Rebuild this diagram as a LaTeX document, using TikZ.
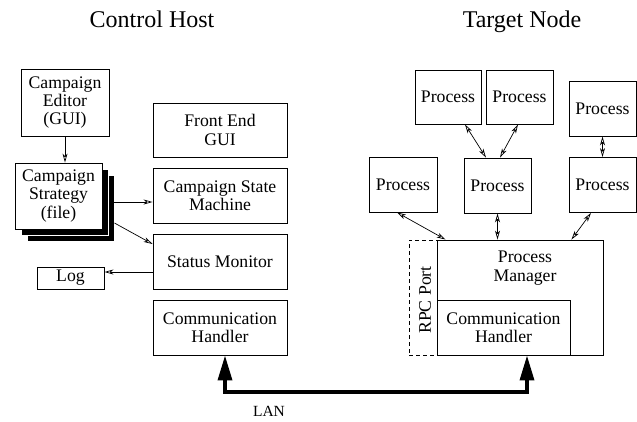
\documentclass[tikz,border=0pt]{standalone}
\usepackage{fontspec}
\setmainfont{Liberation Serif}
\usetikzlibrary{arrows.meta,calc}
\begin{document}
\begin{tikzpicture}[x=1pt,y=-1pt,
  box/.style={draw,line width=0.9pt,inner sep=0pt,align=center,
    font=\fontsize{17.7}{18.3}\selectfont},
  lbl/.style={inner sep=0pt,align=center,font=\fontsize{17.7}{18.3}\selectfont},
  title/.style={inner sep=0pt,anchor=base,font=\fontsize{24}{28}\selectfont},
  link/.style={line width=0.7pt,-{Stealth[length=9pt,width=5pt,inset=2.5pt,open]}},
  dlink/.style={line width=0.7pt,{Stealth[length=9pt,width=5pt,inset=2.5pt,open]}-{Stealth[length=9pt,width=5pt,inset=2.5pt,open]}},
  lan/.style={line width=3.5pt,{Triangle[length=25pt,width=14pt]}-{Triangle[length=25pt,width=14pt]}}]
\useasboundingbox (0,0) rectangle (637,421);

% column titles
\node[title] (ch) at (152,27) {Control Host};
\node[title] (tn) at (522,27) {Target Node};

% control host
\node[box,minimum width=88pt,minimum height=67pt] (editor) at (65,102.5) {Campaign\\Editor\\(GUI)};
\node[box,fill=black,draw=white,minimum width=87pt,minimum height=66pt] (strat3) at (70.5,208) {};
\node[box,fill=black,draw=white,minimum width=87pt,minimum height=66pt] (strat2) at (64.5,202) {};
\node[box,fill=white,minimum width=87pt,minimum height=66pt] (strat) at (58.5,196) {Campaign\\Strategy\\(file)};
\node[box,minimum width=134pt,minimum height=54pt] (fe) at (220,130) {Front End\\GUI};
\node[box,minimum width=134pt,minimum height=55pt] (csm) at (220,195.5) {Campaign State\\Machine};
\node[box,minimum width=134pt,minimum height=55pt] (sm) at (220,261.5) {Status Monitor};
\node[box,minimum width=67pt,minimum height=22pt] (log) at (70.5,278) {Log};
\node[box,minimum width=134pt,minimum height=55pt] (chl) at (220,327.5) {Communication\\Handler};

\draw[link] (editor.south) -- (editor.south |- strat.north);
\draw[link] ([yshift=6pt]strat3.east) -- ([yshift=-6.5pt]csm.west);
\draw[link] ([yshift=-15pt]strat3.east) -- ([yshift=17.5pt]sm.west);
\draw[link] ([yshift=-10.5pt]sm.west) -- ([yshift=6pt]log.east);

% target node
\node[box,minimum width=66pt,minimum height=54pt] (p1) at (448,97) {Process};
\node[box,minimum width=67pt,minimum height=54pt] (p2) at (519.5,97) {Process};
\node[box,minimum width=67pt,minimum height=55pt] (p3) at (602.5,108.5) {Process};
\node[box,minimum width=68pt,minimum height=55pt] (p4) at (403,184.5) {Process};
\node[box,minimum width=67pt,minimum height=55pt] (p5) at (497.5,185.5) {Process};
\node[box,minimum width=67pt,minimum height=55pt] (p6) at (602.5,185) {Process};

\node[draw,dash pattern=on 4pt off 3pt,line width=0.9pt,minimum width=28pt,minimum height=115pt,inner sep=0pt] (rpc) at (423,297.5) {};
\node[lbl,rotate=90] (rpct) at (425,300) {RPC Port};
\node[box,minimum width=166pt,minimum height=115pt] (pm) at (520,297.5) {};
\node[lbl] (pmt) at (525,268) {Process\\Manager};
\node[box,fill=white,minimum width=133pt,minimum height=55pt] (chr) at (503.5,327.5) {Communication\\Handler};

\draw[dlink] ([xshift=17pt]p1.south) -- ([xshift=-11.5pt]p5.north);
\draw[dlink] ([xshift=-1.5pt]p2.south) -- ([xshift=2.5pt]p5.north);
\draw[dlink] (p3.south) -- (p6.north);
\draw[dlink] ([xshift=-6pt]p4.south) -- ([xshift=9pt]pm.north west);
\draw[dlink] (p5.south) -- (p5.south |- pm.north);
\draw[dlink] ([xshift=-11.5pt]p6.south) -- ([xshift=-32pt]pm.north east);

% network link
\coordinate (lanmid) at (376,392);
\draw[lan] ([xshift=5pt]chl.south) |- (lanmid) -| ([xshift=23.5pt]chr.south);
\node[inner sep=0pt,anchor=base,font=\fontsize{15.5}{18}\selectfont] (lant) at (269,416) {LAN};
\end{tikzpicture}
\end{document}
